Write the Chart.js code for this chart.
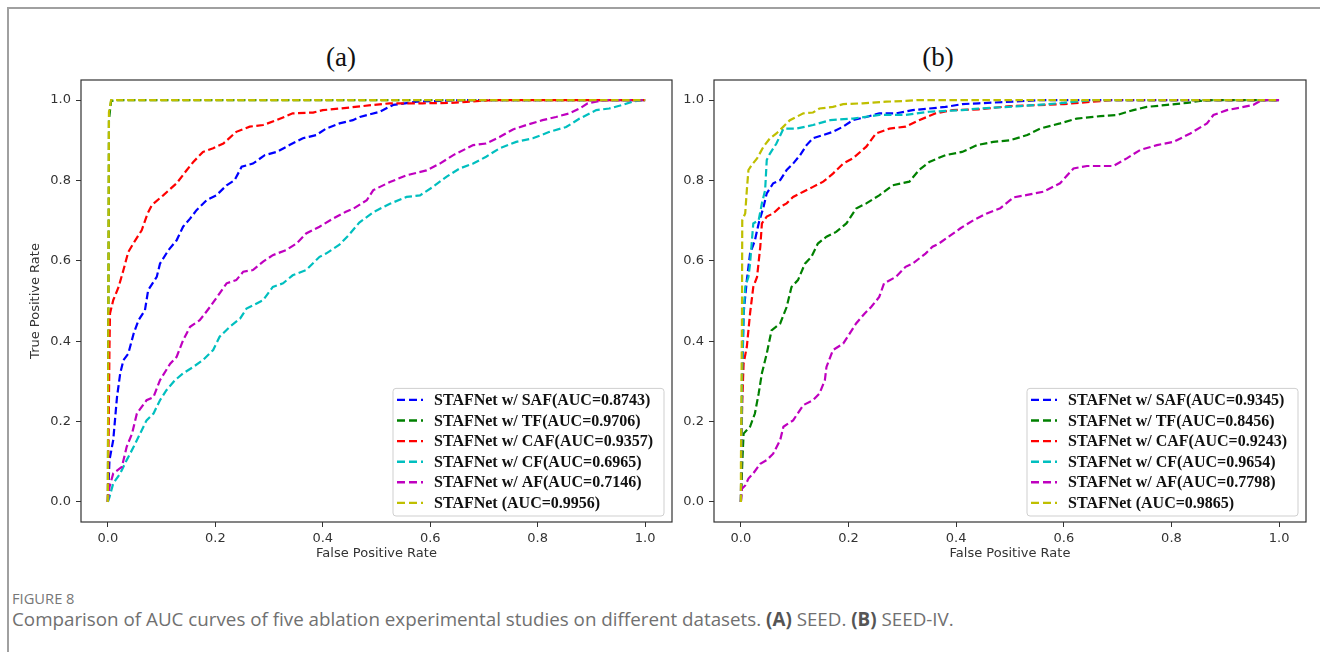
<!DOCTYPE html>
<html>
<head>
<meta charset="utf-8">
<script src="https://cdn.jsdelivr.net/npm/chart.js@4.4.1/dist/chart.umd.min.js"></script>
<style>
  body { margin: 0; background: #fff; width: 1320px; height: 652px; overflow: hidden; position: relative; }
  .frame { position: absolute; left: 7px; top: 7px; width: 1400px; height: 700px; border-top: 2px solid #a0a0a0; border-left: 2px solid #a0a0a0; }
  canvas { position: absolute; top: 0; }
  .ptitle { position: absolute; top: 41px; width: 100px; text-align: center; font: 27px "Liberation Serif", serif; line-height: 32px; color: #111; }
  .figno { position: absolute; left: 12px; top: 588px; font: 14.7px "Open Sans", sans-serif; color: #777; }
  .caption { position: absolute; left: 12px; top: 606px; font: 18.8px "Open Sans", sans-serif; color: #707070; white-space: nowrap; }
  .caption b { color: #555; }
</style>
</head>
<body>
<div class="frame"></div>
<div class="ptitle" style="left:291px">(a)</div>
<div class="ptitle" style="left:888px">(b)</div>
<canvas id="chartA" width="680" height="580" style="left:0"></canvas>
<canvas id="chartB" width="640" height="580" style="left:680px"></canvas>
<div class="figno">FIGURE 8</div>
<div class="caption">Comparison of AUC curves of five ablation experimental studies on different datasets. <b>(A)</b> SEED. <b>(B)</b> SEED-IV.</div>

<script>
// DATA
const variantNames = ['STAFNet w/ SAF', 'STAFNet w/ TF', 'STAFNet w/ CAF', 'STAFNet w/ CF', 'STAFNet w/ AF', 'STAFNet ']
const aucA = [0.8743, 0.9706, 0.9357, 0.6965, 0.7146, 0.9956]
const aucB = [0.9345, 0.8456, 0.9243, 0.9654, 0.7798, 0.9865]
const axisTicks = [0, 0.2, 0.4, 0.6, 0.8, 1.0]

// (a) SEED  -  [FPR, TPR]
const aSAF = [[0,0],[0.003,0.104],[0.010,0.154],[0.017,0.261],[0.023,0.320],[0.029,0.353],[0.038,0.369],[0.048,0.419],[0.057,0.452],[0.069,0.477],[0.075,0.527],[0.091,0.560],[0.097,0.593],[0.113,0.627],[0.128,0.651],[0.140,0.685],[0.153,0.705],[0.165,0.726],[0.184,0.751],[0.202,0.763],[0.221,0.788],[0.236,0.801],[0.249,0.834],[0.270,0.842],[0.292,0.863],[0.314,0.871],[0.338,0.888],[0.363,0.905],[0.388,0.913],[0.406,0.929],[0.431,0.942],[0.456,0.950],[0.469,0.958],[0.506,0.971],[0.531,0.988],[0.575,0.996],[0.618,0.998],[0.66,1.0],[1,1]]
const aTF = [[0,0],[0.002,0.95],[0.006,0.998],[0.02,1.0],[1,1]]
const aCAF = [[0,0],[0.003,0.386],[0.004,0.469],[0.010,0.502],[0.020,0.535],[0.029,0.577],[0.038,0.622],[0.051,0.651],[0.063,0.676],[0.074,0.718],[0.082,0.739],[0.103,0.763],[0.128,0.793],[0.147,0.826],[0.159,0.846],[0.177,0.871],[0.196,0.880],[0.215,0.892],[0.239,0.921],[0.264,0.934],[0.289,0.938],[0.314,0.950],[0.344,0.967],[0.382,0.969],[0.400,0.975],[0.432,0.979],[0.494,0.988],[0.525,0.992],[0.586,0.992],[0.636,0.993],[0.692,0.998],[0.72,1.0],[1,1]]
const aCF = [[0,0],[0.003,0.012],[0.010,0.046],[0.023,0.071],[0.035,0.104],[0.048,0.137],[0.060,0.170],[0.072,0.203],[0.085,0.220],[0.097,0.253],[0.109,0.278],[0.125,0.303],[0.140,0.320],[0.159,0.336],[0.177,0.353],[0.196,0.378],[0.208,0.411],[0.227,0.436],[0.246,0.456],[0.258,0.481],[0.277,0.494],[0.289,0.502],[0.307,0.535],[0.326,0.544],[0.344,0.564],[0.369,0.577],[0.394,0.610],[0.406,0.618],[0.431,0.640],[0.449,0.665],[0.468,0.695],[0.494,0.721],[0.525,0.742],[0.556,0.759],[0.581,0.763],[0.605,0.784],[0.630,0.809],[0.655,0.830],[0.680,0.842],[0.704,0.859],[0.729,0.880],[0.760,0.896],[0.791,0.905],[0.822,0.921],[0.853,0.933],[0.878,0.954],[0.909,0.975],[0.933,0.979],[0.958,0.988],[0.976,0.996],[0.995,1.0],[1,1]]
const aAF = [[0,0],[0.003,0.037],[0.010,0.071],[0.026,0.087],[0.035,0.137],[0.045,0.170],[0.054,0.220],[0.072,0.253],[0.085,0.261],[0.097,0.303],[0.116,0.344],[0.128,0.361],[0.140,0.402],[0.153,0.436],[0.171,0.452],[0.190,0.485],[0.208,0.519],[0.221,0.544],[0.239,0.552],[0.252,0.573],[0.270,0.577],[0.289,0.598],[0.307,0.614],[0.332,0.627],[0.351,0.643],[0.369,0.668],[0.394,0.685],[0.419,0.705],[0.443,0.722],[0.457,0.730],[0.482,0.751],[0.494,0.776],[0.525,0.796],[0.556,0.813],[0.593,0.825],[0.618,0.842],[0.643,0.863],[0.680,0.888],[0.704,0.892],[0.729,0.908],[0.754,0.927],[0.779,0.938],[0.809,0.950],[0.834,0.958],[0.859,0.967],[0.878,0.979],[0.893,0.992],[0.915,0.998],[0.93,1.0],[1,1]]
const aFull = [[0,0],[0.002,0.97],[0.006,1.0],[1,1]]

// (b) SEED-IV
const bSAF = [[0,0],[0.0025,0.303],[0.005,0.469],[0.011,0.552],[0.017,0.618],[0.026,0.651],[0.033,0.693],[0.042,0.734],[0.048,0.768],[0.060,0.793],[0.073,0.801],[0.085,0.826],[0.097,0.842],[0.110,0.863],[0.122,0.888],[0.134,0.905],[0.153,0.913],[0.171,0.921],[0.190,0.934],[0.208,0.950],[0.233,0.958],[0.257,0.967],[0.288,0.967],[0.319,0.975],[0.350,0.979],[0.380,0.983],[0.411,0.990],[0.442,0.992],[0.53,0.998],[0.56,1.0],[1,1]]
const bTF = [[0,0],[0.0025,0.095],[0.005,0.170],[0.017,0.187],[0.026,0.220],[0.033,0.270],[0.039,0.320],[0.048,0.369],[0.057,0.427],[0.073,0.444],[0.085,0.485],[0.094,0.535],[0.106,0.552],[0.119,0.593],[0.131,0.610],[0.143,0.643],[0.159,0.660],[0.177,0.672],[0.196,0.693],[0.214,0.730],[0.233,0.743],[0.257,0.763],[0.282,0.788],[0.313,0.797],[0.331,0.826],[0.350,0.846],[0.380,0.863],[0.411,0.871],[0.439,0.888],[0.469,0.896],[0.500,0.900],[0.532,0.913],[0.556,0.929],[0.593,0.942],[0.624,0.954],[0.668,0.960],[0.699,0.963],[0.729,0.975],[0.754,0.983],[0.792,0.988],[0.829,0.993],[0.853,0.998],[0.88,1.0],[1,1]]
const bCAF = [[0,0],[0.001,0.137],[0.0025,0.253],[0.005,0.344],[0.011,0.386],[0.017,0.469],[0.023,0.535],[0.030,0.560],[0.036,0.635],[0.039,0.693],[0.048,0.710],[0.060,0.718],[0.073,0.734],[0.085,0.743],[0.097,0.759],[0.116,0.772],[0.134,0.784],[0.153,0.797],[0.171,0.817],[0.190,0.842],[0.208,0.855],[0.233,0.884],[0.251,0.917],[0.276,0.929],[0.306,0.934],[0.331,0.950],[0.362,0.967],[0.393,0.975],[0.442,0.977],[0.50,0.985],[0.60,0.990],[0.69,1.0],[1,1]]
const bCF = [[0,0],[0.002,0.303],[0.005,0.469],[0.008,0.535],[0.014,0.560],[0.017,0.593],[0.023,0.693],[0.033,0.701],[0.039,0.743],[0.045,0.776],[0.048,0.851],[0.054,0.867],[0.066,0.892],[0.079,0.929],[0.103,0.929],[0.134,0.938],[0.166,0.950],[0.208,0.954],[0.257,0.963],[0.306,0.963],[0.350,0.971],[0.411,0.975],[0.442,0.979],[0.52,0.985],[0.60,0.993],[0.65,1.0],[1,1]]
const bAF = [[0,0],[0.002,0.033],[0.008,0.041],[0.014,0.058],[0.023,0.071],[0.036,0.095],[0.048,0.104],[0.060,0.120],[0.073,0.154],[0.079,0.187],[0.097,0.203],[0.116,0.241],[0.134,0.253],[0.146,0.270],[0.156,0.303],[0.159,0.336],[0.171,0.378],[0.190,0.394],[0.202,0.419],[0.214,0.444],[0.230,0.469],[0.242,0.485],[0.257,0.510],[0.266,0.544],[0.288,0.560],[0.306,0.585],[0.319,0.593],[0.343,0.618],[0.356,0.635],[0.368,0.643],[0.386,0.660],[0.408,0.681],[0.432,0.701],[0.457,0.718],[0.482,0.731],[0.507,0.758],[0.532,0.764],[0.562,0.772],[0.593,0.793],[0.618,0.830],[0.643,0.836],[0.692,0.836],[0.717,0.855],[0.742,0.876],[0.773,0.888],[0.804,0.896],[0.835,0.917],[0.866,0.942],[0.878,0.963],[0.903,0.975],[0.934,0.983],[0.952,0.988],[0.965,0.998],[0.975,1.0],[1,1]]
const bFull = [[0,0],[0,0.095],[0.001,0.261],[0.002,0.469],[0.0025,0.701],[0.008,0.718],[0.011,0.776],[0.014,0.826],[0.020,0.838],[0.030,0.855],[0.042,0.884],[0.054,0.905],[0.066,0.917],[0.079,0.934],[0.091,0.950],[0.116,0.967],[0.134,0.969],[0.146,0.979],[0.171,0.983],[0.190,0.990],[0.226,0.992],[0.270,0.996],[0.306,0.998],[0.33,1.0],[1,1]]

// matplotlib b g r c m y
const lineColors = ['#0000ff', '#008000', '#ff0000', '#00bfbf', '#bf00bf', '#bfbf00']

Chart.defaults.font.family = 'DejaVu Sans'
Chart.defaults.font.size = 13
Chart.defaults.color = '#333'

// box round the plot area
const axesBox = {
    id: 'axesBox',
    afterDraw(chart) {
        const {ctx, chartArea: a} = chart
        ctx.save()
        ctx.strokeStyle = '#333'
        ctx.lineWidth = 1.2
        ctx.strokeRect(a.left, a.top, a.right - a.left, a.bottom - a.top)
        ctx.restore()
    }
}

// legend in lower right corner, inside the axes
const insideLegend = {
    id: 'insideLegend',
    afterDraw(chart) {
        const {ctx, chartArea: a} = chart
        const sets = chart.data.datasets
        const rowH = 20.6
        const w = 271, h = rowH * sets.length + 4
        const x0 = a.right - 8 - w, y0 = a.bottom - 6 - h
        ctx.save()
        ctx.fillStyle = 'rgba(255,255,255,0.85)'
        ctx.strokeStyle = '#cfcfcf'
        ctx.lineWidth = 1
        ctx.beginPath()
        ctx.roundRect(x0, y0, w, h, 3)
        ctx.fill()
        ctx.stroke()
        sets.forEach((ds, i) => {
            const y = y0 + 11.5 + i * rowH
            ctx.strokeStyle = ds.borderColor
            ctx.lineWidth = 2.4
            ctx.setLineDash([8, 4])
            ctx.beginPath()
            ctx.moveTo(x0 + 4, y)
            ctx.lineTo(x0 + 30, y)
            ctx.stroke()
            ctx.setLineDash([])
            ctx.fillStyle = '#111'
            ctx.font = 'bold 16px "Liberation Serif"'
            ctx.textBaseline = 'middle'
            ctx.fillText(ds.label, x0 + 41, y + 1)
        })
        ctx.restore()
    }
}

function makeDatasets(curves, aucs) {
    return curves.map((pts, i) => ({
        label: variantNames[i] + '(AUC=' + aucs[i].toFixed(4) + ')',
        data: pts.map(p => ({x: p[0], y: p[1]})),
        borderColor: lineColors[i],
        borderWidth: 2.2,
        borderDash: [7.5, 3.5],
        pointRadius: 0,
        fill: false,
        tension: 0,
        order: curves.length - 1 - i
    }))
}

function makeScale(titleText, fitSize, isX) {
    return {
        type: 'linear',
        min: -0.05,
        max: 1.05,
        afterBuildTicks: scale => { scale.ticks = axisTicks.map(v => ({value: v})) },
        afterFit: scale => {
            if (isX) scale.height = fitSize
            else scale.width = fitSize
        },
        ticks: {
            callback: v => v.toFixed(1),
            padding: isX ? 4 : 5,
            color: '#333',
            font: {size: 13},
            maxRotation: 0
        },
        grid: {
            display: true,
            drawOnChartArea: false,
            drawTicks: true,
            tickLength: 5,
            color: '#333'
        },
        border: {display: false},
        title: {
            display: titleText !== '',
            text: titleText,
            color: '#333',
            font: {size: 13},
            padding: isX ? {top: 0, bottom: 6} : {top: 28, bottom: 0}
        }
    }
}

function makeChart(canvasId, curves, aucs, yTitle, yWidth, padRight) {
    return new Chart(document.getElementById(canvasId), {
        type: 'line',
        data: {datasets: makeDatasets(curves, aucs)},
        options: {
            responsive: false,
            animation: false,
            devicePixelRatio: 1,
            layout: {padding: {left: 0, top: 80, right: padRight, bottom: 13}},
            scales: {
                x: makeScale('False Positive Rate', 45, true),
                y: makeScale(yTitle, yWidth, false)
            },
            plugins: {
                legend: {display: false},
                tooltip: {enabled: false}
            }
        },
        plugins: [axesBox, insideLegend]
    })
}

const chartA = makeChart('chartA', [aSAF, aTF, aCAF, aCF, aAF, aFull], aucA, 'True Positive Rate', 81, 8)
const chartB = makeChart('chartB', [bSAF, bTF, bCAF, bCF, bAF, bFull], aucB, '', 34, 14)
</script>
</body>
</html>
